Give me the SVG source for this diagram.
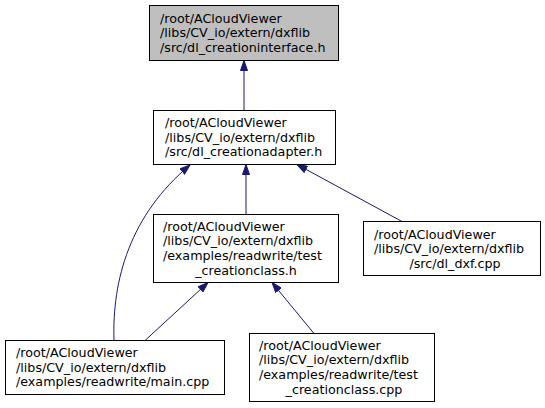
<svg xmlns="http://www.w3.org/2000/svg" width="545" height="408" viewBox="0 0 545 408">
<style>
.box{fill:#ffffff;stroke:#000000;stroke-width:1}
.cur{fill:#bfbfbf}
text{font-family:"DejaVu Sans","Noto Sans",sans-serif;font-size:12.7px;fill:#000000}
.mid{text-anchor:middle}
.edge{fill:none;stroke:#191970;stroke-width:1}
</style>
<defs>
<marker id="arr" markerUnits="userSpaceOnUse" markerWidth="11" markerHeight="8" viewBox="0 0 11 8" refX="10.5" refY="4" orient="auto">
<path d="M0.5,0.5 L10.5,4 L0.5,7.5 Z" fill="#191970" stroke="#191970" stroke-width="1"/>
</marker>
</defs>
<rect width="545" height="408" fill="#ffffff"/>
<g id="connectors">
<path class="edge" d="M244,110.5 L244,60.5" marker-end="url(#arr)"/>
<path class="edge" d="M246,214.5 L246,164.5" marker-end="url(#arr)"/>
<path class="edge" d="M402,221.5 L297,164.5" marker-end="url(#arr)"/>
<path class="edge" d="M114,340.5 C112,280 130,215 190,165" marker-end="url(#arr)"/>
<path class="edge" d="M145,340.5 L208,282.5" marker-end="url(#arr)"/>
<path class="edge" d="M314,333.5 L272,282.5" marker-end="url(#arr)"/>
</g>
<g id="node1">
<rect class="box cur" x="149.5" y="5.5" width="189" height="55"/>
<text x="160" y="22.6">/root/ACloudViewer</text>
<text x="160" y="37.2">/libs/CV_io/extern/dxflib</text>
<text x="160" y="51.8">/src/dl_creationinterface.h</text>
</g>
<g id="node2">
<rect class="box" x="153.5" y="110.5" width="182" height="54"/>
<text x="165" y="127.1">/root/ACloudViewer</text>
<text x="165" y="141.7">/libs/CV_io/extern/dxflib</text>
<text x="165" y="156.3">/src/dl_creationadapter.h</text>
</g>
<g id="node3">
<rect class="box" x="153.5" y="214.5" width="185" height="68"/>
<text x="163" y="230.8">/root/ACloudViewer</text>
<text x="163" y="245.4">/libs/CV_io/extern/dxflib</text>
<text x="163" y="260">/examples/readwrite/test</text>
<text class="mid" x="246" y="274.6">_creationclass.h</text>
</g>
<g id="node4">
<rect class="box" x="363.5" y="221.5" width="177" height="54"/>
<text x="374" y="238.6">/root/ACloudViewer</text>
<text x="374" y="253.2">/libs/CV_io/extern/dxflib</text>
<text class="mid" x="455" y="267.8">/src/dl_dxf.cpp</text>
</g>
<g id="node5">
<rect class="box" x="5.5" y="340.5" width="219" height="54"/>
<text x="16" y="357.1">/root/ACloudViewer</text>
<text x="16" y="371.7">/libs/CV_io/extern/dxflib</text>
<text x="16" y="386.3">/examples/readwrite/main.cpp</text>
</g>
<g id="node6">
<rect class="box" x="249.5" y="333.5" width="185" height="68"/>
<text x="259" y="349.8">/root/ACloudViewer</text>
<text x="259" y="364.4">/libs/CV_io/extern/dxflib</text>
<text x="259" y="379">/examples/readwrite/test</text>
<text class="mid" x="344" y="393.6">_creationclass.cpp</text>
</g>
</svg>
